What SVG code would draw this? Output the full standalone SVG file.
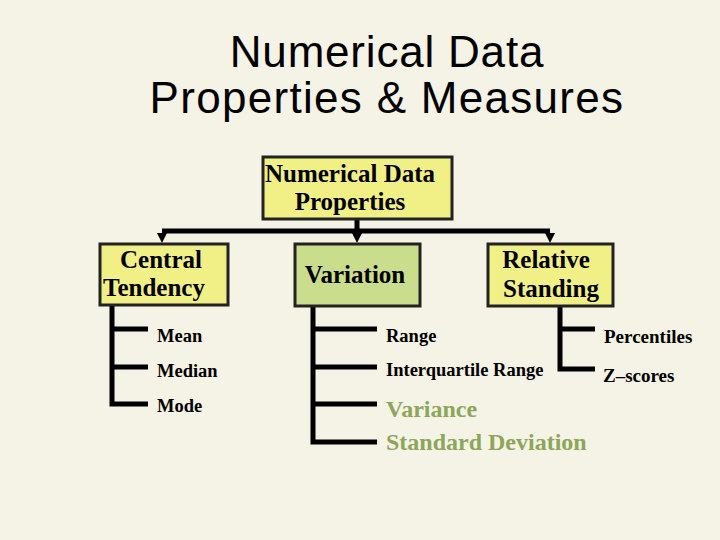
<svg xmlns="http://www.w3.org/2000/svg" width="720" height="540" viewBox="0 0 720 540">
<defs>
<style>
.title{font-family:"Liberation Sans",Arial,sans-serif;font-size:44px;fill:#000;text-anchor:middle;letter-spacing:0.8px}
.box{stroke:#222;stroke-width:3}
.yel{fill:#F0F087}
.grn{fill:#C9DD8C}
.bt{font-family:"Liberation Serif","Times New Roman",serif;font-weight:bold;font-size:25px;fill:#000;text-anchor:middle}
.it{font-family:"Liberation Serif","Times New Roman",serif;font-weight:bold;font-size:18.5px;fill:#000}
.gt{font-family:"Liberation Serif","Times New Roman",serif;font-weight:bold;font-size:24px;fill:#8CA65A}
.ln{fill:none;stroke:#000;stroke-width:5;stroke-linejoin:miter;stroke-linecap:butt}
</style>
</defs>
<rect width="720" height="540" fill="#F5F3E5"/>
<text class="title" x="387" y="67">Numerical Data</text>
<text class="title" x="387" y="113" style="letter-spacing:1.3px">Properties &amp; Measures</text>

<g id="connectors">
<path class="ln" d="M357 220 V231"/>
<path class="ln" d="M162 231 H550"/>
<path d="M157 233 H167 L162 243 Z" fill="#000"/>
<path d="M352 233 H362 L357 243 Z" fill="#000"/>
<path d="M545 233 H555 L550 243 Z" fill="#000"/>
<path class="ln" d="M112 306 V404 H148 M112 329 H148 M112 367 H148"/>
<path class="ln" d="M313 306 V442 H377 M313 329 H377 M313 367 H377 M313 404 H377"/>
<path class="ln" d="M560 306 V369 H595 M560 329 H595"/>
</g>

<g id="root">
<rect class="box yel" x="263" y="157" width="189" height="62"/>
<text class="bt" x="350" y="182">Numerical Data</text>
<text class="bt" x="350" y="210">Properties</text>
</g>

<g id="central">
<rect class="box yel" x="100" y="244" width="128" height="61"/>
<text class="bt" x="161" y="268">Central</text>
<text class="bt" x="154" y="296">Tendency</text>
</g>

<g id="variation">
<rect class="box grn" x="295" y="244" width="125" height="62"/>
<text class="bt" x="355" y="283">Variation</text>
</g>

<g id="relative">
<rect class="box yel" x="488" y="244" width="125" height="62"/>
<text class="bt" x="546" y="268">Relative</text>
<text class="bt" x="551" y="297">Standing</text>
</g>

<g id="central-items">
<text class="it" x="157" y="342">Mean</text>
<text class="it" x="157" y="377">Median</text>
<text class="it" x="157" y="412">Mode</text>
</g>

<g id="variation-items">
<text class="it" x="386" y="342">Range</text>
<text class="it" x="386" y="376">Interquartile Range</text>
<text class="gt" x="386" y="417">Variance</text>
<text class="gt" x="386" y="450">Standard Deviation</text>
</g>

<g id="relative-items">
<text class="it" x="604" y="343" style="font-size:19px">Percentiles</text>
<text class="it" x="603" y="382" style="font-size:19px">Z–scores</text>
</g>
</svg>
